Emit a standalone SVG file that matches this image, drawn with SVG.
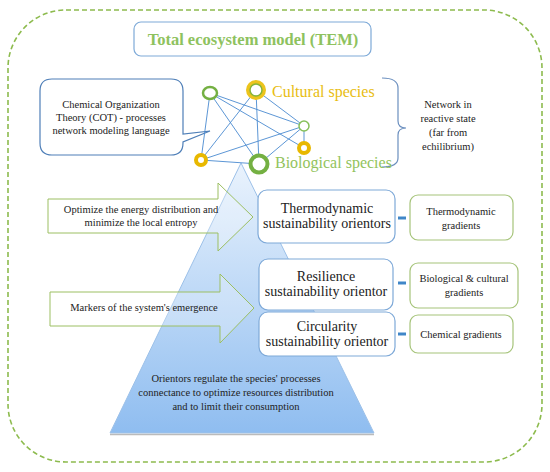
<svg xmlns="http://www.w3.org/2000/svg" width="550" height="472" viewBox="0 0 550 472">
<defs>
<linearGradient id="pyr" x1="0" y1="0" x2="0" y2="1">
<stop offset="0" stop-color="#eaf3fd"/>
<stop offset="1" stop-color="#8fbdf0"/>
</linearGradient>
<style>
.t{font-family:"Liberation Serif","DejaVu Serif",serif;fill:#222;text-anchor:middle}
.s{font-size:10.5px}
.m{font-size:14px}
.ob{fill:#fff;stroke:#7ea9d8;stroke-width:1.2}
.gb{fill:#fff;stroke:#a6c47a;stroke-width:1.2}
.ar{fill:#fff;fill-opacity:0.25;stroke:#9cbf62;stroke-width:1}
.ed{stroke:#4a8ad0;stroke-width:0.9;fill:none}
.dash{stroke:#3f86c8;stroke-width:3}
</style>
</defs>
<rect x="8" y="10" width="534" height="452" rx="58" fill="none" stroke="#8dbb4e" stroke-width="1.6" stroke-dasharray="5,3"/>

<g id="title">
<rect x="134" y="22" width="237" height="34" rx="7" fill="#fff" stroke="#7eaad8" stroke-width="1.2"/>
<text x="253" y="45" style="font-family:'Liberation Serif',serif;font-size:16.5px;font-weight:bold;fill:#8ec25e;text-anchor:middle">Total ecosystem model (TEM)</text>
</g>

<g id="callout">
<path d="M52 79 H171 Q183 79 183 91 V134 L210 131 L183 142 V143 Q183 155 171 155 H52 Q40 155 40 143 V91 Q40 79 52 79 Z" fill="#fff" stroke="#4f7fb8" stroke-width="1.2"/>
<text class="t s" x="111" y="108">Chemical Organization</text>
<text class="t s" x="111" y="121">Theory  (COT) - processes</text>
<text class="t s" x="111" y="134">network modeling language</text>
</g>

<g id="pyramid">
<polygon points="241,163 374,433 110,433" fill="url(#pyr)" stroke="#9cc0e8" stroke-width="1"/>
<line x1="110" y1="434.5" x2="374" y2="434.5" stroke="#bbb" stroke-width="1.5"/>
<text class="t s" x="236" y="382">Orientors regulate the species' processes</text>
<text class="t s" x="236" y="396">connectance to optimize resources distribution</text>
<text class="t s" x="236" y="410">and to limit their consumption</text>
</g>

<g id="connectors">
<line class="ed" x1="210" y1="93" x2="304" y2="126"/>
<line class="ed" x1="210" y1="93" x2="304" y2="148"/>
<line class="ed" x1="210" y1="93" x2="201" y2="160"/>
<line class="ed" x1="210" y1="93" x2="259" y2="164"/>
<line class="ed" x1="256" y1="90" x2="259" y2="164"/>
<line class="ed" x1="256" y1="90" x2="304" y2="126"/>
<line class="ed" x1="256" y1="90" x2="201" y2="160"/>
<line class="ed" x1="201" y1="160" x2="304" y2="126"/>
<line class="ed" x1="201" y1="160" x2="259" y2="164"/>
<line class="ed" x1="259" y1="164" x2="304" y2="126"/>
<line class="ed" x1="304" y1="126" x2="304" y2="148"/>
<path d="M382 78 Q398 78 398 88 V121 Q398 128 406 128 Q398 128 398 135 V158 Q398 167 382 167" fill="none" stroke="#6b8fbf" stroke-width="1.2"/>
<line class="dash" x1="398" y1="218" x2="406" y2="218"/>
<line class="dash" x1="398" y1="283" x2="406" y2="283"/>
<line class="dash" x1="398" y1="334" x2="406" y2="334"/>
</g>

<g id="node-tl"><ellipse cx="210" cy="93" rx="7" ry="6" fill="#fff" stroke="#74b042" stroke-width="2.5"/></g>
<g id="node-cultural">
<circle cx="256" cy="90" r="8" fill="#fff" stroke="#ecc41c" stroke-width="4"/>
<circle cx="256" cy="90" r="6" fill="none" stroke="#86b43a" stroke-width="1.5"/>
<text x="272" y="97" style="font-family:'Liberation Serif',serif;font-size:16px;fill:#e8bd12">Cultural species</text>
</g>
<g id="node-sr"><circle cx="304" cy="126" r="5" fill="#fff" stroke="#86c05a" stroke-width="1.5"/></g>
<g id="node-yr"><circle cx="304" cy="148" r="5" fill="#fff" stroke="#e8b800" stroke-width="4"/></g>
<g id="node-bl"><circle cx="201" cy="160" r="5" fill="#fff" stroke="#e8b800" stroke-width="4"/></g>
<g id="node-biological">
<circle cx="259" cy="164" r="8.5" fill="#fff" stroke="#74b042" stroke-width="4"/>
<text x="275" y="168" style="font-family:'Liberation Serif',serif;font-size:16px;fill:#92c35c">Biological species</text>
</g>

<g id="network-label">
<text class="t s" x="448" y="108">Network in</text>
<text class="t s" x="448" y="122">reactive state</text>
<text class="t s" x="448" y="136">(far from</text>
<text class="t s" x="448" y="150">echilibrium)</text>
</g>

<g id="arrow1">
<polygon class="ar" points="48,199 218,199 218,183 253,217 218,251 218,233 48,233"/>
<text class="t s" x="141" y="213">Optimize the energy distribution and</text>
<text class="t s" x="141" y="226">minimize the local entropy</text>
</g>
<g id="arrow2">
<polygon class="ar" points="50,292 220,292 220,274 254,308 220,343 220,326 50,326"/>
<text class="t s" x="144" y="311">Markers of the system's emergence</text>
</g>

<g id="thermo">
<rect class="ob" x="258" y="190" width="137" height="53" rx="9"/>
<text class="t m" x="327" y="213">Thermodynamic</text>
<text class="t m" x="327" y="228">sustainability orientors</text>
</g>
<g id="resilience">
<rect class="ob" x="259" y="259" width="134" height="51" rx="9"/>
<text class="t m" x="326" y="281">Resilience</text>
<text class="t m" x="326" y="296">sustainability orientor</text>
</g>
<g id="circularity">
<rect class="ob" x="259" y="312" width="136" height="44" rx="9"/>
<text class="t m" x="327" y="331">Circularity</text>
<text class="t m" x="327" y="346">sustainability orientor</text>
</g>

<g id="grad-thermo">
<rect class="gb" x="410" y="195" width="103" height="45" rx="8"/>
<text class="t s" x="461" y="215">Thermodynamic</text>
<text class="t s" x="461" y="229">gradients</text>
</g>
<g id="grad-bio">
<rect class="gb" x="410" y="263" width="108" height="45" rx="8"/>
<text class="t s" x="464" y="282">Biological &amp; cultural</text>
<text class="t s" x="464" y="296">gradients</text>
</g>
<g id="grad-chem">
<rect class="gb" x="410" y="315" width="103" height="38" rx="8"/>
<text class="t s" x="461" y="338">Chemical gradients</text>
</g>
</svg>
